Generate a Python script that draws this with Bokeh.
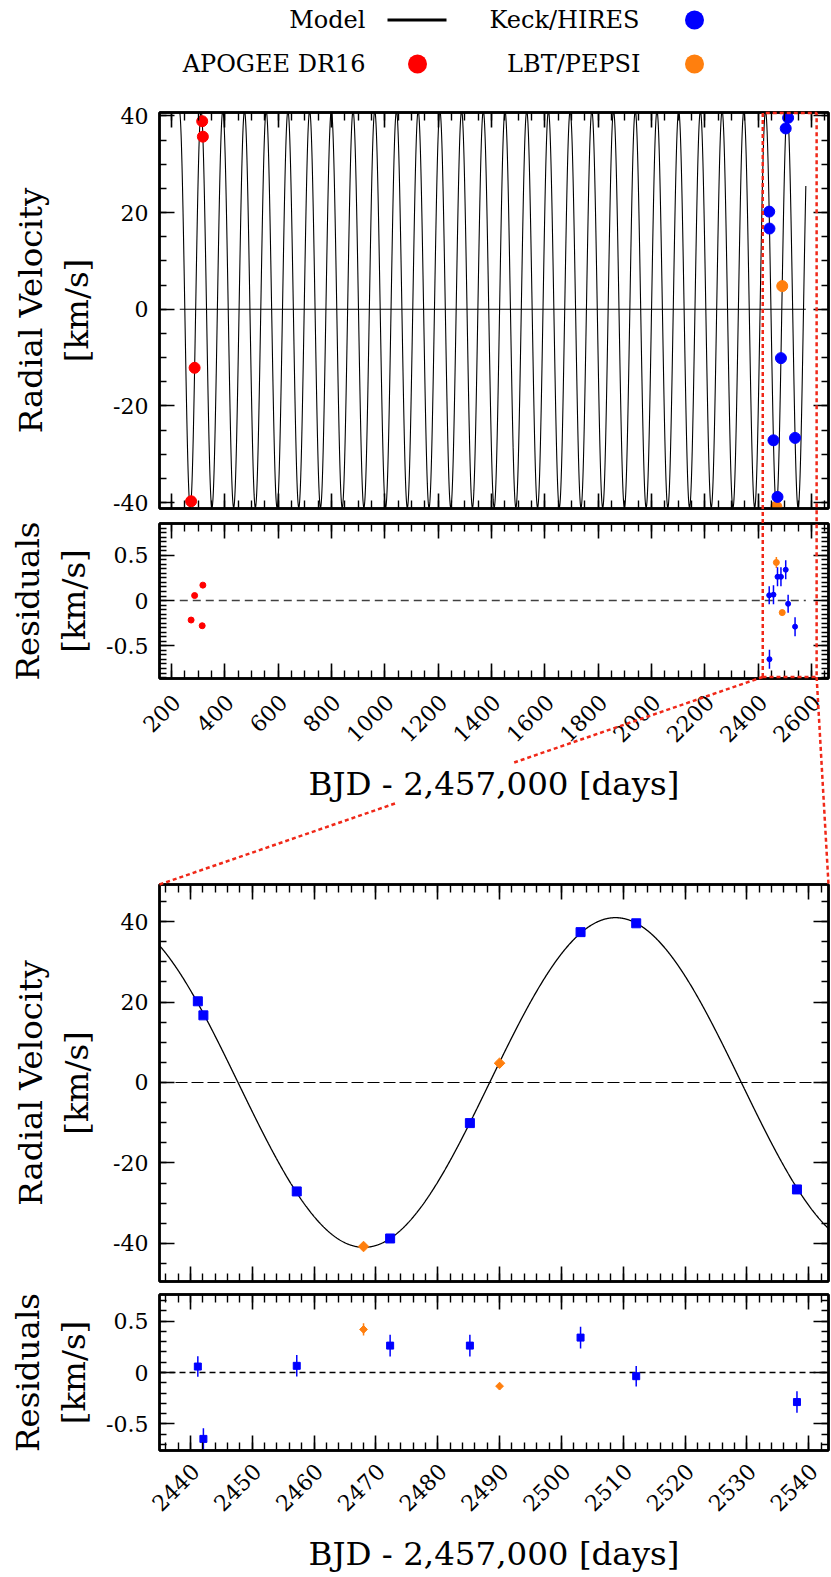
import math
import numpy as np
from bokeh.plotting import figure
from bokeh.models import (Range1d, LinearAxis, SingleIntervalTicker, GridBox,
                          CustomJSTickFormatter)
from bokeh.layouts import column
from bokeh.embed import file_html
from bokeh.resources import INLINE
from bokeh.core.properties import value

# ---------------- data ----------------
keck_t = [2441.2, 2442.1, 2457.2, 2472.3, 2485.2, 2503.1, 2512.1, 2538.1]
keck_rv = [20.2, 16.7, -27.1, -38.8, -10.1, 37.4, 39.6, -26.6]
keck_res = [0.058, -0.647, 0.065, 0.262, 0.262, 0.340, -0.036, -0.288]
keck_err = [0.100, 0.105, 0.105, 0.105, 0.105, 0.105, 0.100, 0.105]

pepsi_t = [2468.0, 2490.0]
pepsi_rv = [-40.8, 4.8]
pepsi_res = [0.420, -0.133]
pepsi_err = [0.060, 0.032]

apogee_t = [273.5, 286.7, 315.1, 317.6]
apogee_rv = [-39.7, -12.1, 38.9, 35.7]
apogee_res = [-0.215, 0.055, -0.278, 0.170]
apogee_err = [0.020, 0.020, 0.020, 0.020]

# orbital model parameters (circular fit)
model_period = 81.4
model_tzero = 2488.4
model_semi_amp = 41.0
model_gamma = 0.0
model_top_span = [231.0, 2578.5]

legend_labels = ["Model", "Keck/HIRES", "APOGEE DR16", "LBT/PEPSI"]

top_x_range = (155.0, 2663.5)
top_rv_range = (-41.2, 40.7)
top_res_range = (-0.86, 0.85)
zoom_x_range = (2435.0, 2543.2)
zoom_rv_range = (-49.5, 49.25)
zoom_res_range = (-0.76, 0.76)
zoom_box_span = (2417.0, 2619.0)

x_title = "BJD - 2,457,000 [days]"
rv_title = "Radial Velocity\n[km/s]"
res_title = "Residuals\n[km/s]"

# ---------------- style ----------------
SERIF = "DejaVu Serif"
BLUE = "#0000ff"
REDC = "#ff0000"
ORANGE = "#ff7f0e"
BOXRED = "#f02818"
TICK_FONT = "22px"
TITLE_FONT = "32.5px"
LEGEND_FONT = "24px"
LEFT, FRAME_W, RIGHT_B = 159, 669, 3
PAGE_W, PAGE_H = 831, 1577
TITLE_GAP_Y = (762, 803)   # page rows where the x title hides the connector

fmt = CustomJSTickFormatter(code="return String(Math.round(tick*1000)/1000);")


def model_rv(t):
    return model_gamma + model_semi_amp * np.sin(2 * np.pi * (np.asarray(t) - model_tzero) / model_period)


def style_axis(ax, interval, nminor, major_in, minor_in, show_labels, standoff=11):
    ax.ticker = SingleIntervalTicker(interval=interval, num_minor_ticks=nminor)
    ax.formatter = fmt
    ax.major_tick_in = major_in
    ax.major_tick_out = 0
    ax.minor_tick_in = minor_in
    ax.minor_tick_out = 0
    ax.axis_line_width = 2.4
    ax.axis_line_color = "black"
    ax.major_tick_line_width = 1.6
    ax.minor_tick_line_width = 1.4
    ax.major_tick_line_color = "black"
    ax.minor_tick_line_color = "black"
    ax.major_label_text_font = SERIF
    ax.major_label_text_font_size = TICK_FONT
    if show_labels:
        ax.major_label_text_color = "black"
        ax.major_label_standoff = standoff
    else:
        ax.major_label_text_color = None
        ax.major_label_standoff = 0


def make_fig(top_b, frame_h, bottom_b, xr, yr, xint, xminor, yint, yminor,
             ylabel, ylabel_standoff):
    h = top_b + frame_h + bottom_b
    p = figure(width=LEFT + FRAME_W + RIGHT_B, height=h,
               frame_width=FRAME_W, frame_height=frame_h,
               x_range=Range1d(*xr), y_range=Range1d(*yr),
               output_backend="svg", toolbar_location=None,
               min_border_left=LEFT, min_border_right=RIGHT_B,
               min_border_top=top_b, min_border_bottom=bottom_b)
    p.xgrid.visible = False
    p.ygrid.visible = False
    p.outline_line_color = "black"
    p.outline_line_width = 2.4
    p.background_fill_color = "white"
    p.border_fill_color = "white"
    xa = p.xaxis[0]
    ya = p.yaxis[0]
    style_axis(xa, xint, xminor, 15, 8, False)
    style_axis(ya, yint, yminor, 15, 7, True)
    ya.axis_label = ylabel
    ya.axis_label_text_font = SERIF
    ya.axis_label_text_font_size = TITLE_FONT
    ya.axis_label_text_font_style = "normal"
    ya.axis_label_text_color = "black"
    ya.axis_label_standoff = ylabel_standoff
    top = LinearAxis()
    style_axis(top, xint, xminor, 15, 8, False)
    p.add_layout(top, "above")
    right = LinearAxis()
    style_axis(right, yint, yminor, 15, 7, False)
    p.add_layout(right, "right")
    return p


def add_x_labels(p, xr, xint, px_shift, standoff, title_standoff):
    span = xr[1] - xr[0]
    d = px_shift * span / FRAME_W
    p.extra_x_ranges = {"lab": Range1d(xr[0] - d, xr[1] - d)}
    ax = LinearAxis(x_range_name="lab")
    style_axis(ax, xint, 0, 0, 0, True, standoff)
    ax.axis_line_color = None
    ax.major_tick_line_color = None
    ax.minor_tick_line_color = None
    ax.major_label_orientation = math.pi / 4
    ax.axis_label = x_title
    ax.axis_label_text_font = SERIF
    ax.axis_label_text_font_size = TITLE_FONT
    ax.axis_label_text_font_style = "normal"
    ax.axis_label_text_color = "black"
    ax.axis_label_standoff = title_standoff
    p.add_layout(ax, "below")
    return ax


# ---------------- legend strip (page-pixel coordinates, frame aligned with panels) ----------------
leg = figure(width=PAGE_W, height=100, frame_width=FRAME_W, frame_height=100,
             x_range=Range1d(LEFT, LEFT + FRAME_W), y_range=Range1d(100, 0),
             output_backend="svg", toolbar_location=None,
             min_border_left=LEFT, min_border_right=RIGHT_B,
             min_border_top=0, min_border_bottom=0,
             x_axis_location=None, y_axis_location=None)
leg.outline_line_color = None
leg.xgrid.visible = False
leg.ygrid.visible = False
leg.text(x=[365, 639, 365, 640], y=[19.5, 19.5, 63.5, 63.5], text=legend_labels,
         text_align="right", text_baseline="middle", text_font=value(SERIF),
         text_font_size=LEGEND_FONT, text_color="black")
leg.line(x=[387, 446], y=[19.5, 19.5], line_color="black", line_width=3)
leg.scatter(x=[694, 417, 694], y=[19.5, 63.5, 63.5], size=19, marker="circle",
            fill_color=[BLUE, REDC, ORANGE], line_color=None)

# ---------------- geometry of the frames on the page ----------------
G1 = dict(T=112, H=396, xr=top_x_range, yr=top_rv_range)
G2 = dict(T=523, H=155, xr=top_x_range, yr=top_res_range)
G3 = dict(T=884, H=397, xr=zoom_x_range, yr=zoom_rv_range)
G4 = dict(T=1294, H=156, xr=zoom_x_range, yr=zoom_res_range)

# ---------------- top: full baseline ----------------
p1 = make_fig(12, 396, 7, top_x_range, top_rv_range, 200, 4, 20, 4, rv_title, 14)
t_top = np.linspace(model_top_span[0], model_top_span[1], 8000)
p1.line(t_top, model_rv(t_top), line_color="black", line_width=1.1)
p1.line(model_top_span, [0, 0], line_color="black", line_width=1.1)
p1.scatter(apogee_t, apogee_rv, size=11, color=REDC)
p1.scatter(pepsi_t, pepsi_rv, size=11, color=ORANGE)
p1.scatter(keck_t, keck_rv, size=11, color=BLUE)

p2 = make_fig(8, 155, 203, top_x_range, top_res_range, 200, 4, 0.5, 10, res_title, 10)
add_x_labels(p2, top_x_range, 200, 5, 20, 13)
p2.line(model_top_span, [0, 0], line_color="#404040", line_width=1.5, line_dash="8 5")


def errbars(p, t, r, e, color, width):
    lo = [a - b for a, b in zip(r, e)]
    hi = [a + b for a, b in zip(r, e)]
    p.segment(x0=t, y0=lo, x1=t, y1=hi, line_color=color, line_width=width)


errbars(p2, apogee_t, apogee_res, apogee_err, REDC, 1.5)
errbars(p2, pepsi_t, pepsi_res, pepsi_err, ORANGE, 1.5)
errbars(p2, keck_t, keck_res, keck_err, BLUE, 1.5)
p2.scatter(apogee_t, apogee_res, size=6, color=REDC)
p2.scatter(pepsi_t, pepsi_res, size=6, color=ORANGE)
p2.scatter(keck_t, keck_res, size=5, color=BLUE)

# ---------------- bottom: zoom ----------------
p3 = make_fig(3, 397, 6, zoom_x_range, zoom_rv_range, 10, 5, 20, 4, rv_title, 14)
t_zoom = np.linspace(zoom_x_range[0], zoom_x_range[1], 1500)
p3.line(t_zoom, model_rv(t_zoom), line_color="black", line_width=1.3)
p3.line(list(zoom_x_range), [0, 0], line_color="black", line_width=1.2, line_dash="12 4")
p3.scatter(keck_t, keck_rv, size=9, marker="square", color=BLUE)
p3.scatter(pepsi_t, pepsi_rv, size=7.5, marker="square", angle=math.pi / 4, color=ORANGE)

p4 = make_fig(7, 156, 127, zoom_x_range, zoom_res_range, 10, 5, 0.5, 5, res_title, 10)
add_x_labels(p4, zoom_x_range, 10, 5, 17, 14)
p4.line(list(zoom_x_range), [0, 0], line_color="black", line_width=1.3, line_dash="6 4")
errbars(p4, pepsi_t, pepsi_res, pepsi_err, ORANGE, 1.5)
errbars(p4, keck_t, keck_res, keck_err, BLUE, 1.5)
p4.scatter(keck_t, keck_res, size=7, marker="square", color=BLUE)
p4.scatter(pepsi_t, pepsi_res, size=5.5, marker="square", angle=math.pi / 4, color=ORANGE)


# ---------------- zoom box and connectors (transparent page overlay) ----------------
def to_page_x(g, x):
    xr = g["xr"]
    return LEFT + (x - xr[0]) / (xr[1] - xr[0]) * FRAME_W


def point_at_y(a, b, y):
    f = (y - a[1]) / (b[1] - a[1])
    return (a[0] + f * (b[0] - a[0]), y)


over = figure(width=PAGE_W, height=PAGE_H, x_range=Range1d(0, PAGE_W), y_range=Range1d(PAGE_H, 0),
              output_backend="svg", toolbar_location=None, min_border=0,
              x_axis_location=None, y_axis_location=None)
over.outline_line_color = None
over.background_fill_color = None
over.border_fill_color = None
over.xgrid.visible = False
over.ygrid.visible = False

bx0 = to_page_x(G1, zoom_box_span[0])
bx1 = to_page_x(G1, zoom_box_span[1])
box_top = G1["T"] + 0.5
box_bot = G2["T"] + G2["H"] - 1.5
z_top = G3["T"]
a_left, b_left = (bx0, box_bot), (LEFT, z_top)
pa = point_at_y(a_left, b_left, TITLE_GAP_Y[0])
pb = point_at_y(a_left, b_left, TITLE_GAP_Y[1])
paths = [
    [(bx0, box_bot), (bx0, box_top), (bx1, box_top), (bx1, box_bot), (bx0, box_bot)],
    [a_left, pa],
    [pb, b_left],
    [(bx1, box_bot), (LEFT + FRAME_W, z_top)],
]
over.multi_line(xs=[[q[0] for q in pth] for pth in paths],
                ys=[[q[1] for q in pth] for pth in paths],
                line_color=BOXRED, line_width=2.5, line_dash="4 3")

main = column(leg, p1, p2, p3, p4, spacing=0)
root = GridBox(children=[(main, 0, 0), (over, 0, 0)], spacing=0)

html = file_html(root, INLINE)
html = html.replace("<head>", "<head><style>html,body{margin:0;padding:0;}</style>", 1)
open("out.html", "w").write(html)
